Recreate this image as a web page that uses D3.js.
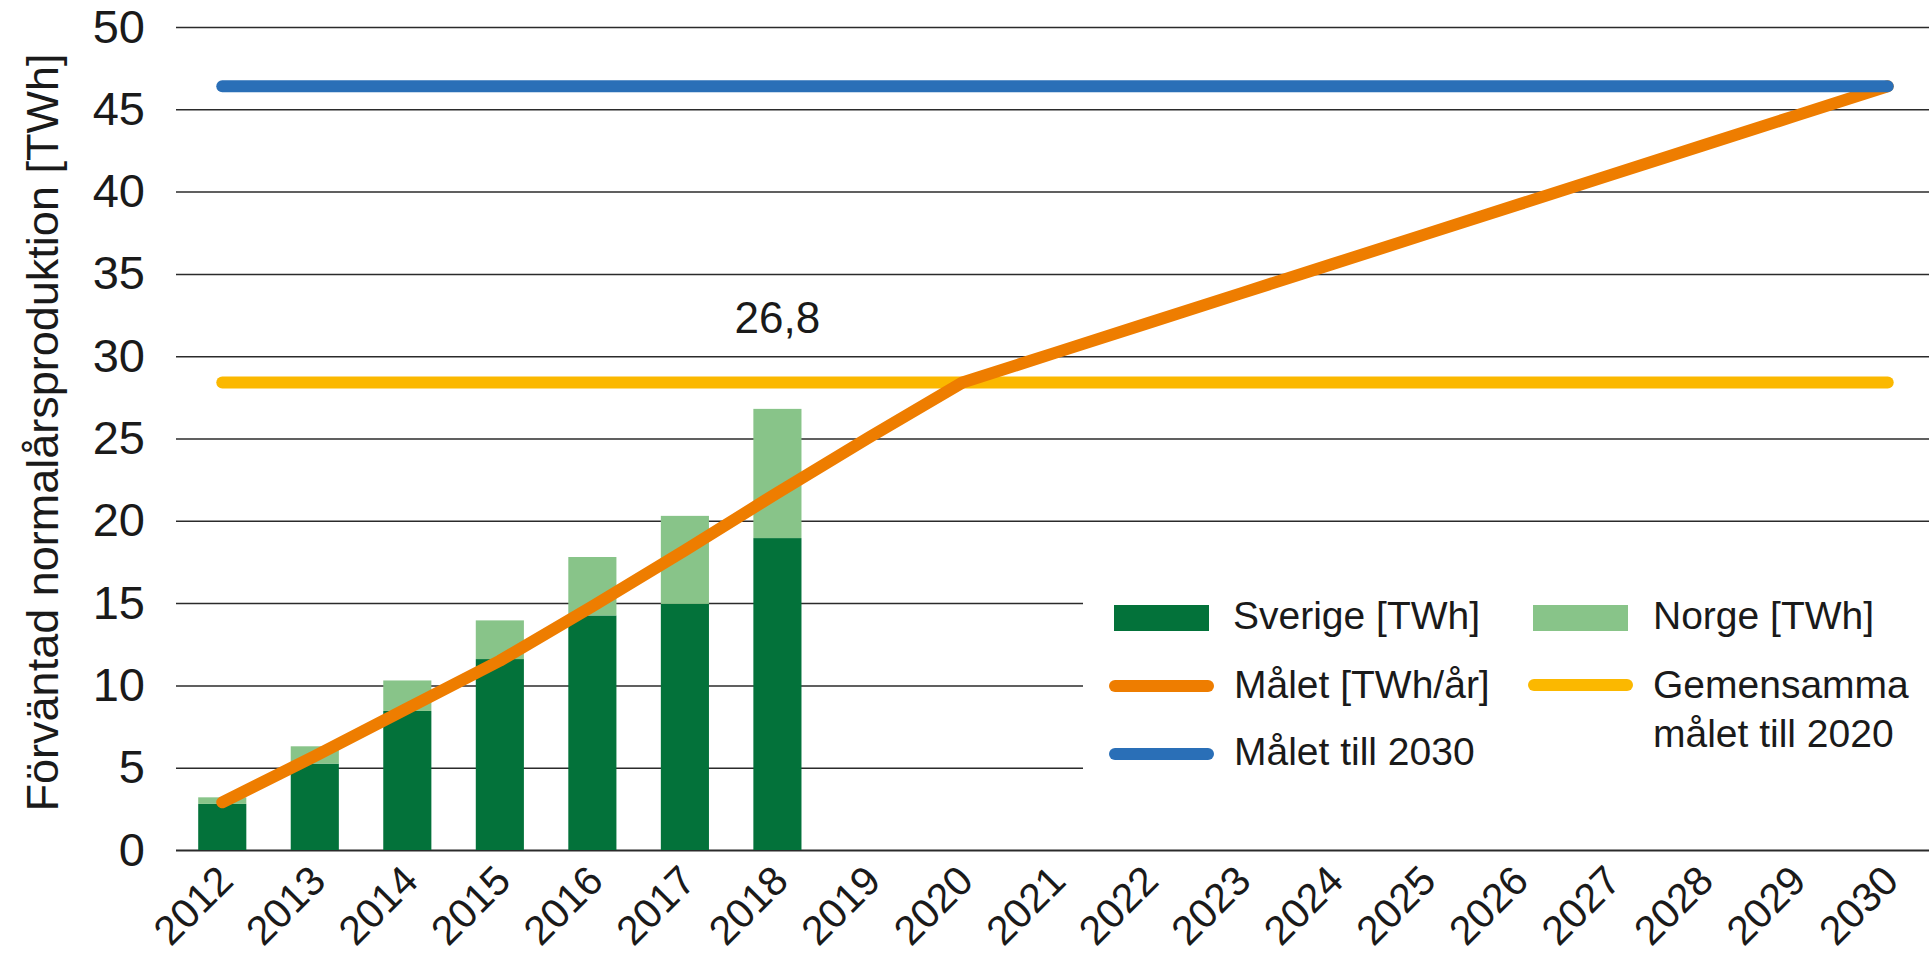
<!DOCTYPE html>
<html>
<head>
<meta charset="utf-8">
<script src="https://cdn.jsdelivr.net/npm/d3@7/dist/d3.min.js"></script>
<style>
  body { margin: 0; background: #fff; }
  text { font-family: "Liberation Sans", Arial, Helvetica, sans-serif; fill: #1a1a1a; }
</style>
</head>
<body>
<div id="chart"></div>
<script>
// data
const years = ["2012", "2013", "2014", "2015", "2016", "2017", "2018", "2019", "2020", "2021",
               "2022", "2023", "2024", "2025", "2026", "2027", "2028", "2029", "2030"];
const barYears = ["2012", "2013", "2014", "2015", "2016", "2017", "2018"];
const sverige = [2.8, 5.25, 8.45, 11.6, 14.25, 14.95, 18.95];
const norge = [0.4, 1.05, 1.85, 2.35, 3.55, 5.35, 7.85];
const malet = [2.9, 5.7, 8.6, 11.5, 14.8, 18.2, 21.7, 25.1, 28.4, 30.2,
               32.0, 33.8, 35.6, 37.4, 39.2, 41.0, 42.8, 44.6, 46.4];
const malet2030 = [46.4, 46.4];
const gemensamma2020 = [28.4, 28.4];
const lineSpan = ["2012", "2030"];
const yTicks = [0, 5, 10, 15, 20, 25, 30, 35, 40, 45, 50];
const yTitle = "Förväntad normalårsproduktion [TWh]";

const colors = {
    sverige: "#03723a",
    norge: "#88c489",
    malet: "#ee7d00",
    gem: "#fbb800",
    m2030: "#2a6fb7"
};

const chartW = 1929, chartH = 962;
const margin = { left: 176, right: 1934, top: 27, bottom: 850 };

const svg = d3.select("#chart")
    .append("svg")
    .attr("width", chartW)
    .attr("height", chartH);

const x = d3.scaleBand()
    .domain(years)
    .range([margin.left, margin.right])
    .paddingInner(0.48)
    .paddingOuter(0.24);

const y = d3.scaleLinear()
    .domain([0, 50])
    .range([margin.bottom, margin.top]);

const cx = d => x(d) + x.bandwidth() / 2;

// y axis with gridlines
const yAxis = svg.append("g")
    .attr("transform", `translate(${margin.left},0)`)
    .call(d3.axisLeft(y).tickValues(yTicks).tickSize(-(chartW - margin.left)).tickPadding(31));
yAxis.select(".domain").remove();
yAxis.selectAll(".tick line")
    .attr("stroke", "#2b2b2b")
    .attr("stroke-width", d => d === 0 ? 2.2 : 1.5);
yAxis.selectAll(".tick text")
    .style("font-size", "47px")
    .attr("fill", "#1a1a1a");

// y title
svg.append("text")
    .attr("transform", `translate(58,${(margin.top + margin.bottom) / 2 - 6}) rotate(-90)`)
    .attr("text-anchor", "middle")
    .style("font-size", "45px")
    .text(yTitle);

// x axis labels
const xAxis = svg.append("g")
    .attr("transform", `translate(0,${margin.bottom})`)
    .call(d3.axisBottom(x).tickSize(0));
xAxis.select(".domain").remove();
xAxis.selectAll(".tick text")
    .attr("x", 0).attr("y", 0).attr("dy", 0)
    .attr("transform", "translate(13,33) rotate(-45)")
    .attr("text-anchor", "end")
    .style("font-size", "41px")
    .attr("fill", "#1a1a1a");

// white legend backdrop hides the gridlines behind it
svg.append("rect")
    .attr("x", 1083).attr("y", 560)
    .attr("width", chartW - 1083).attr("height", 250)
    .attr("fill", "#fff");

// stacked bars
const bars = svg.append("g");
bars.selectAll("rect.sv")
    .data(barYears)
    .enter()
    .append("rect")
    .attr("class", "sv")
    .attr("x", d => x(d))
    .attr("width", x.bandwidth())
    .attr("y", (d, i) => y(sverige[i]))
    .attr("height", (d, i) => y(0) - y(sverige[i]))
    .attr("fill", colors.sverige);
bars.selectAll("rect.no")
    .data(barYears)
    .enter()
    .append("rect")
    .attr("class", "no")
    .attr("x", d => x(d))
    .attr("width", x.bandwidth())
    .attr("y", (d, i) => y(sverige[i] + norge[i]))
    .attr("height", (d, i) => y(sverige[i]) - y(sverige[i] + norge[i]))
    .attr("fill", colors.norge);

// total label over last bar
const last = barYears.length - 1;
const total = sverige[last] + norge[last];
svg.append("text")
    .attr("x", cx(barYears[last]))
    .attr("y", y(total) - 76)
    .attr("text-anchor", "middle")
    .style("font-size", "44px")
    .text(total.toFixed(1).replace(".", ","));

// lines
const line = d3.line()
    .x(d => cx(d[0]))
    .y(d => y(d[1]));

function drawLine(pts, color) {
    svg.append("path")
        .datum(pts)
        .attr("d", line)
        .attr("fill", "none")
        .attr("stroke", color)
        .attr("stroke-width", 12)
        .attr("stroke-linecap", "round")
        .attr("stroke-linejoin", "round");
}

drawLine(lineSpan.map((d, i) => [d, gemensamma2020[i]]), colors.gem);
drawLine(years.map((d, i) => [d, malet[i]]), colors.malet);
drawLine(lineSpan.map((d, i) => [d, malet2030[i]]), colors.m2030);

// legend
const legend = svg.append("g").style("font-size", "39px");

function swatch(xp, yp, color) {
    legend.append("rect")
        .attr("x", xp).attr("y", yp)
        .attr("width", 95).attr("height", 26)
        .attr("fill", color);
}
function legendLine(xp, yp, color) {
    legend.append("line")
        .attr("x1", xp).attr("x2", xp + 93)
        .attr("y1", yp).attr("y2", yp)
        .attr("stroke", color)
        .attr("stroke-width", 12)
        .attr("stroke-linecap", "round");
}
function label(xp, yp, txt) {
    legend.append("text").attr("x", xp).attr("y", yp).text(txt);
}

swatch(1114, 605, colors.sverige);
label(1233, 629, "Sverige [TWh]");
swatch(1533, 605, colors.norge);
label(1653, 629, "Norge [TWh]");
legendLine(1115, 686, colors.malet);
label(1234, 698, "Målet [TWh/år]");
legendLine(1534, 685, colors.gem);
label(1653, 698, "Gemensamma");
label(1653, 747, "målet till 2020");
legendLine(1115, 754, colors.m2030);
label(1234, 765, "Målet till 2030");
</script>
</body>
</html>
